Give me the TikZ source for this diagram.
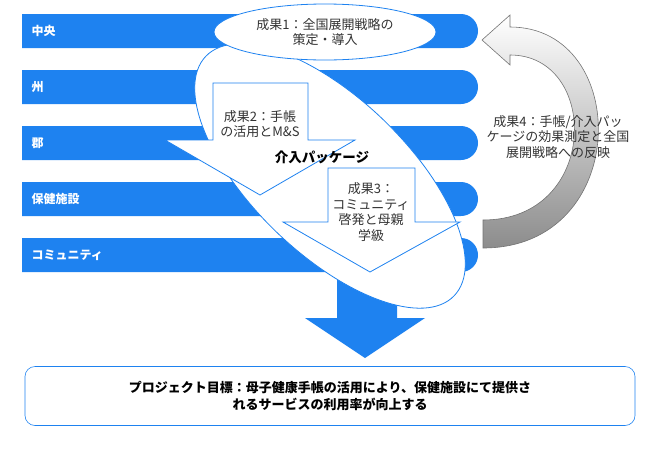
\documentclass[tikz,border=0pt]{standalone}
\usepackage{fontspec}
\setmainfont{Noto Sans CJK JP}
\usetikzlibrary{shapes.geometric}
\definecolor{barblue}{RGB}{30,130,240}
\tikzset{
 bar/.style={fill=barblue,draw=none},
 barlabel/.style={text=white,font=\bfseries\fontsize{12}{14}\selectfont,anchor=west},
 jtext/.style={font=\fontsize{13}{15.5}\selectfont,align=center,text=black!80},
 outarrow/.style={fill=white,draw=barblue,line width=0.8pt}
}
\begin{document}
\begin{tikzpicture}[x=1pt,y=-1pt]
\useasboundingbox (0,0) rectangle (650,450);
\foreach \y/\t/\n in {14/中央/a,70/州/b,126/郡/c,182/保健施設/d,238/コミュニティ/e}{
  \fill[bar] (22,\y) [rounded corners=17pt] -- (478,\y) -- (478,\y+34) [sharp corners] -- (22,\y+34) -- cycle;
  \node[barlabel] (l\n) at (28,\y+17) {\t};
}
% big down arrow
\fill[barblue] (337,270) -- (397,270) -- (397,318) -- (425,318) -- (365,358) -- (305,318) -- (337,318) -- cycle;
% package ellipse
\node[ellipse,draw=barblue,fill=white,line width=0.8pt,minimum width=345pt,minimum height=155pt,rotate=-44] (pkg) at (330,176) {};
% arrow 2
\draw[outarrow] (213,83) -- (308,83) -- (308,140) -- (355,140) -- (260,195) -- (165,140) -- (213,140) -- cycle;
\node[jtext] (o2) at (260,124) {成果2：手帳\\の活用とM\&S};
% arrow 3
\draw[outarrow] (328,168) -- (415,168) -- (415,222) -- (460,222) -- (370,272) -- (283,222) -- (328,222) -- cycle;
\node[jtext] (o3) at (371,212) {成果3：\\コミュニティ\\啓発と母親\\学級};
\node[font=\bfseries\fontsize{13.5}{15}\selectfont] (pk) at (322,157) {介入パッケージ};
% top ellipse
\node[ellipse,draw=barblue,fill=white,line width=0.8pt,minimum width=222pt,minimum height=56pt,inner sep=0pt,jtext] (o1) at (325,32) {成果1：全国展開戦略の\\策定・導入};
% curved arrow
\shade[top color=white,bottom color=black!45,draw=black!55,line width=0.6pt]
 (483,248) .. controls (632,248) and (632,27) .. (510,27) -- (510,15) -- (482,40) -- (510,65) -- (510,55) .. controls (600,55) and (600,220) .. (483,220) -- cycle;
\node[jtext] (o4) at (558,137) {成果4：手帳/介入パッ\\ケージの効果測定と全国\\展開戦略への反映};
% goal box
\node[draw=barblue,rounded corners=10pt,line width=0.6pt,minimum width=610pt,minimum height=59pt,align=center,font=\bfseries\fontsize{13}{17}\selectfont] (goal) at (330,396) {プロジェクト目標：母子健康手帳の活用により、保健施設にて提供さ\\れるサービスの利用率が向上する};
\end{tikzpicture}
\end{document}
